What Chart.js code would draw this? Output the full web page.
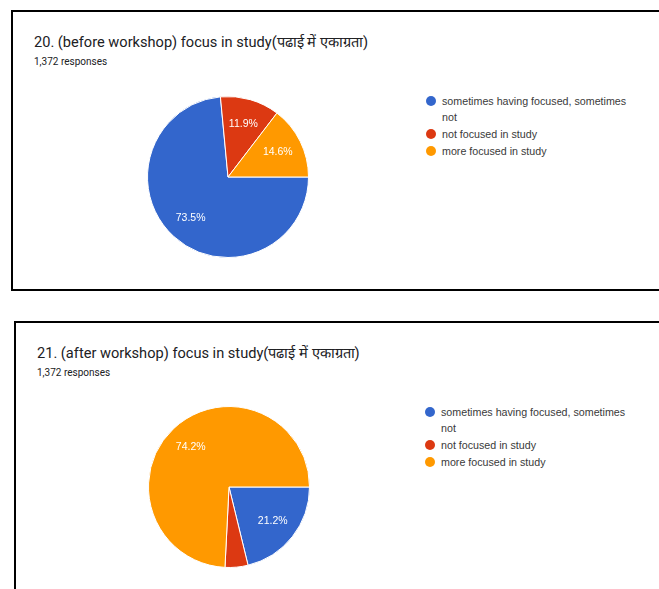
<!DOCTYPE html>
<html>
<head>
<meta charset="utf-8">
<script src="https://cdn.jsdelivr.net/npm/chart.js@4"></script>
<style>
  html, body { margin: 0; padding: 0; background: #fff; width: 659px; height: 589px; overflow: hidden; position: relative; font-family: Roboto, Arial, sans-serif; }
  .panel { position: absolute; border: 2px solid #000; box-sizing: border-box; }
  .title { position: absolute; font-size: 14.6px; line-height: 1; color: #202124; white-space: nowrap; }
  .sub { position: absolute; font-size: 10px; line-height: 1; color: #202124; white-space: nowrap; }
  .legend { position: absolute; width: 202px; font-family: "Liberation Sans", Arial, sans-serif; font-size: 10.7px; color: #3a3a3a; line-height: 16px; }
  .legend div { position: relative; padding-left: 16px; margin-bottom: 1px; }
  .legend span { position: absolute; left: 0; top: 3px; width: 10px; height: 10px; border-radius: 50%; }
  canvas { position: absolute; }
</style>
</head>
<body>
<script>
const categories = ['sometimes having focused, sometimes not', 'not focused in study', 'more focused in study'];
const beforeValues = [73.5, 11.9, 14.6];
const afterValues = [21.2, 4.6, 74.2];
const sliceColors = ['#3366cc', '#dc3912', '#ff9900'];
const beforeTitle = '20. (before workshop) focus in study(पढाई में एकाग्रता)';
const afterTitle = '21. (after workshop) focus in study(पढाई में एकाग्रता)';
const responsesText = '1,372 responses';

// percent labels inside the slices, like google forms
const sliceLabels = {
  id: 'sliceLabels',
  afterDatasetsDraw(chart) {
    const ctx = chart.ctx;
    const values = chart.data.datasets[0].data;
    const total = values.reduce((a, b) => a + b, 0);
    ctx.save();
    ctx.font = '10.5px "Liberation Sans", Arial, sans-serif';
    ctx.fillStyle = '#ffffff';
    ctx.textAlign = 'center';
    ctx.textBaseline = 'middle';
    chart.getDatasetMeta(0).data.forEach((arc, i) => {
      const pct = values[i] / total * 100;
      if (pct < 5) return;
      const p = arc.getProps(['x', 'y', 'startAngle', 'endAngle', 'outerRadius'], true);
      const mid = (p.startAngle + p.endAngle) / 2;
      const r = p.outerRadius * 0.69;
      ctx.fillText(pct.toFixed(1) + '%', p.x + Math.cos(mid) * r, p.y + Math.sin(mid) * r);
    });
    ctx.restore();
  }
};

function addEl(tag, cls, style, text) {
  const el = document.createElement(tag);
  if (cls) el.className = cls;
  Object.assign(el.style, style);
  if (text) el.textContent = text;
  document.body.appendChild(el);
  return el;
}

function makePanel(box, dx, dy, legendX, title, values, cx, cy) {
  addEl('div', 'panel', { left: box[0] + 'px', top: box[1] + 'px', width: box[2] + 'px', height: box[3] + 'px' });
  addEl('div', 'title', { left: (34 + dx) + 'px', top: (35 + dy) + 'px' }, title);
  addEl('div', 'sub', { left: (34 + dx) + 'px', top: (57 + dy) + 'px' }, responsesText);

  const legend = addEl('div', 'legend', { left: legendX + 'px', top: (93 + dy) + 'px' });
  categories.forEach((c, i) => {
    const row = document.createElement('div');
    const dot = document.createElement('span');
    dot.style.background = sliceColors[i];
    row.appendChild(dot);
    row.appendChild(document.createTextNode(c));
    legend.appendChild(row);
  });

  const canvas = addEl('canvas', null, { left: (cx - 90) + 'px', top: (cy - 90) + 'px' });
  canvas.width = 180;
  canvas.height = 180;
  new Chart(canvas.getContext('2d'), {
    type: 'pie',
    data: {
      labels: categories,
      datasets: [{
        data: values,
        backgroundColor: sliceColors,
        borderColor: '#ffffff',
        borderWidth: 1,
        hoverOffset: 0
      }]
    },
    options: {
      responsive: false,
      animation: false,
      rotation: 90,
      layout: { padding: 9 },
      plugins: { legend: { display: false }, tooltip: { enabled: false } }
    },
    plugins: [sliceLabels]
  });
}

makePanel([11, 10, 700, 281], 0, 0, 426, beforeTitle, beforeValues, 228, 177);
makePanel([14, 321, 700, 400], 3, 311, 425, afterTitle, afterValues, 229, 487);
</script>
</body>
</html>
